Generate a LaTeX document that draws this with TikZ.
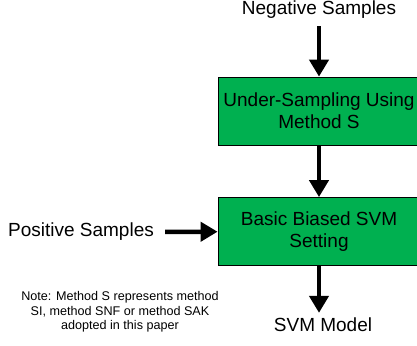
\documentclass[tikz,border=0pt]{standalone}
\usepackage{fontspec}
\setmainfont{Liberation Sans}
\usetikzlibrary{arrows.meta,positioning}
\definecolor{boxgreen}{RGB}{0,176,80}
\newcommand\bigtxt{\fontsize{19}{22}\selectfont}
\newcommand\notetxt{\fontsize{12.6}{14.5}\selectfont}

\begin{document}
\begin{tikzpicture}[x=1pt,y=-1pt,
                    arr/.style={-{Triangle[length=17pt,width=19pt]},line width=4.5pt},
                    box/.style={draw=black,line width=0.8pt,fill=boxgreen,minimum width=202pt,
                                minimum height=68pt,align=center,font=\bigtxt},
                    lbl/.style={inner sep=0pt,font=\bigtxt}]
\useasboundingbox (0,0) rectangle (417,345);

\node[lbl] (neg) at(319,10) {Negative Samples};
\node[box] (us) at(319,111) {Under-Sampling Using\\Method S};
\node[box] (bbs) at(319,231.5) {Basic Biased SVM\\Setting};
\node[lbl] (pos) at(81,232) {Positive Samples};
\node[lbl] (svm) at(323,325) {SVM Model};
\node[align=center,inner sep=0pt,font=\notetxt] (note) at(120,312)
  {Note: Method S represents method\\SI, method SNF or method SAK\\adopted in this paper};

\draw[arr,shorten <=7pt] (neg) -- (us);
\draw[arr] (us) -- (bbs);
\draw[arr,shorten <=11pt] (pos) -- (bbs);
\draw[arr,shorten >=5pt] (bbs.south) -- (bbs.south |- svm.north);

\end{tikzpicture}
\end{document}
